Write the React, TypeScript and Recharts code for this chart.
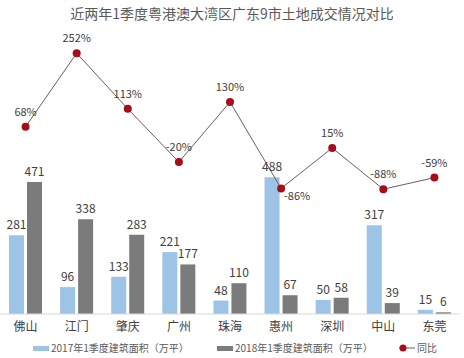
import React from "react";
import {
  ComposedChart,
  Bar,
  Line,
  XAxis,
  YAxis,
  LabelList,
} from "recharts";

const cities = ["佛山", "江门", "肇庆", "广州", "珠海", "惠州", "深圳", "中山", "东莞"];
const area2017 = [281, 96, 133, 221, 48, 488, 50, 317, 15];
const area2018 = [471, 338, 283, 177, 110, 67, 58, 39, 6];
const yoy = [68, 252, 113, -20, 130, -86, 15, -88, -59];

const TITLE = "近两年1季度粤港澳大湾区广东9市土地成交情况对比";
const NAME_2017 = "2017年1季度建筑面积（万平）";
const NAME_2018 = "2018年1季度建筑面积（万平）";
const NAME_YOY = "同比";

const BLUE = "#9dc3e6";
const GRAY = "#7b7b7b";
const RED = "#a50d1a";
const LINE = "#6e5c5c";
const TEXT = "#404040";
const FONT = "'Noto Sans CJK SC', 'Noto Sans', sans-serif";

const data = cities.map((name, i) => ({
  name,
  a2017: area2017[i],
  a2018: area2018[i],
  yoy: yoy[i],
}));

// 惠州 label sits below-right of its dot, the rest are above
function YoyLabel({ x = 0, y = 0, value, index }: any) {
  const below = index === 5;
  return (
    <text
      x={below ? x + 16 : x}
      y={below ? y + 12 : y - 11}
      textAnchor="middle"
      fill={TEXT}
      fontSize={11}
      fontFamily={FONT}
    >
      {`${value}%`}
    </text>
  );
}

function LegendBox() {
  const item = (marker: React.ReactNode, label: string, left: number) => (
    <div
      style={{
        position: "absolute",
        left,
        top: 0,
        display: "flex",
        alignItems: "center",
        gap: 2,
        whiteSpace: "nowrap",
      }}
    >
      {marker}
      <span>{label}</span>
    </div>
  );
  const bar = (c: string) => (
    <div style={{ width: 16, height: 5, background: c }} />
  );
  const line = (
    <svg width={16} height={8}>
      <line x1={0} y1={4} x2={16} y2={4} stroke={LINE} strokeWidth={1} />
      <circle cx={4} cy={4} r={3.5} fill={RED} />
    </svg>
  );
  return (
    <div
      style={{
        position: "absolute",
        left: 0,
        top: 341,
        width: 464,
        height: 14,
        fontSize: 10,
        lineHeight: "14px",
        color: "#595959",
        fontFamily: FONT,
      }}
    >
      {item(bar(BLUE), NAME_2017, 33)}
      {item(bar(GRAY), NAME_2018, 217)}
      {item(line, NAME_YOY, 399)}
    </div>
  );
}

export default function App() {
  return (
    <div
      style={{
        position: "absolute",
        left: 0,
        top: 0,
        width: 464,
        height: 358,
        background: "#ffffff",
        fontFamily: FONT,
      }}
    >
      <div
        style={{
          position: "absolute",
          top: 4,
          left: 0,
          width: 464,
          textAlign: "center",
          fontSize: 14,
          color: "#595959",
          lineHeight: "18px",
        }}
      >
        {TITLE}
      </div>
      <ComposedChart
        width={464}
        height={358}
        data={data}
        margin={{ top: 34, right: 4, left: 0, bottom: 20 }}
        barGap={3}
        barSize={15}
      >
        <XAxis
          dataKey="name"
          axisLine={{ stroke: "#d9d9d9" }}
          tickLine={false}
          tick={{ fill: TEXT, fontSize: 12, fontFamily: FONT }}
          height={24}
        />
        <YAxis yAxisId="left" hide domain={[0, 1000]} />
        <YAxis yAxisId="right" hide domain={[-400, 300]} orientation="right" />
        <Bar
          yAxisId="left"
          dataKey="a2017"
          name={NAME_2017}
          fill={BLUE}
          isAnimationActive={false}
        >
          <LabelList
            dataKey="a2017"
            position="top"
            offset={6}
            fill={TEXT}
            fontSize={12}
            fontFamily={FONT}
          />
        </Bar>
        <Bar
          yAxisId="left"
          dataKey="a2018"
          name={NAME_2018}
          fill={GRAY}
          isAnimationActive={false}
        >
          <LabelList
            dataKey="a2018"
            position="top"
            offset={6}
            fill={TEXT}
            fontSize={12}
            fontFamily={FONT}
          />
        </Bar>
        <Line
          yAxisId="right"
          dataKey="yoy"
          name={NAME_YOY}
          stroke={LINE}
          strokeWidth={1}
          dot={{ r: 4, fill: RED, stroke: RED, strokeWidth: 0 }}
          isAnimationActive={false}
        >
          <LabelList dataKey="yoy" content={<YoyLabel />} />
        </Line>
      </ComposedChart>
      <LegendBox />
    </div>
  );
}
